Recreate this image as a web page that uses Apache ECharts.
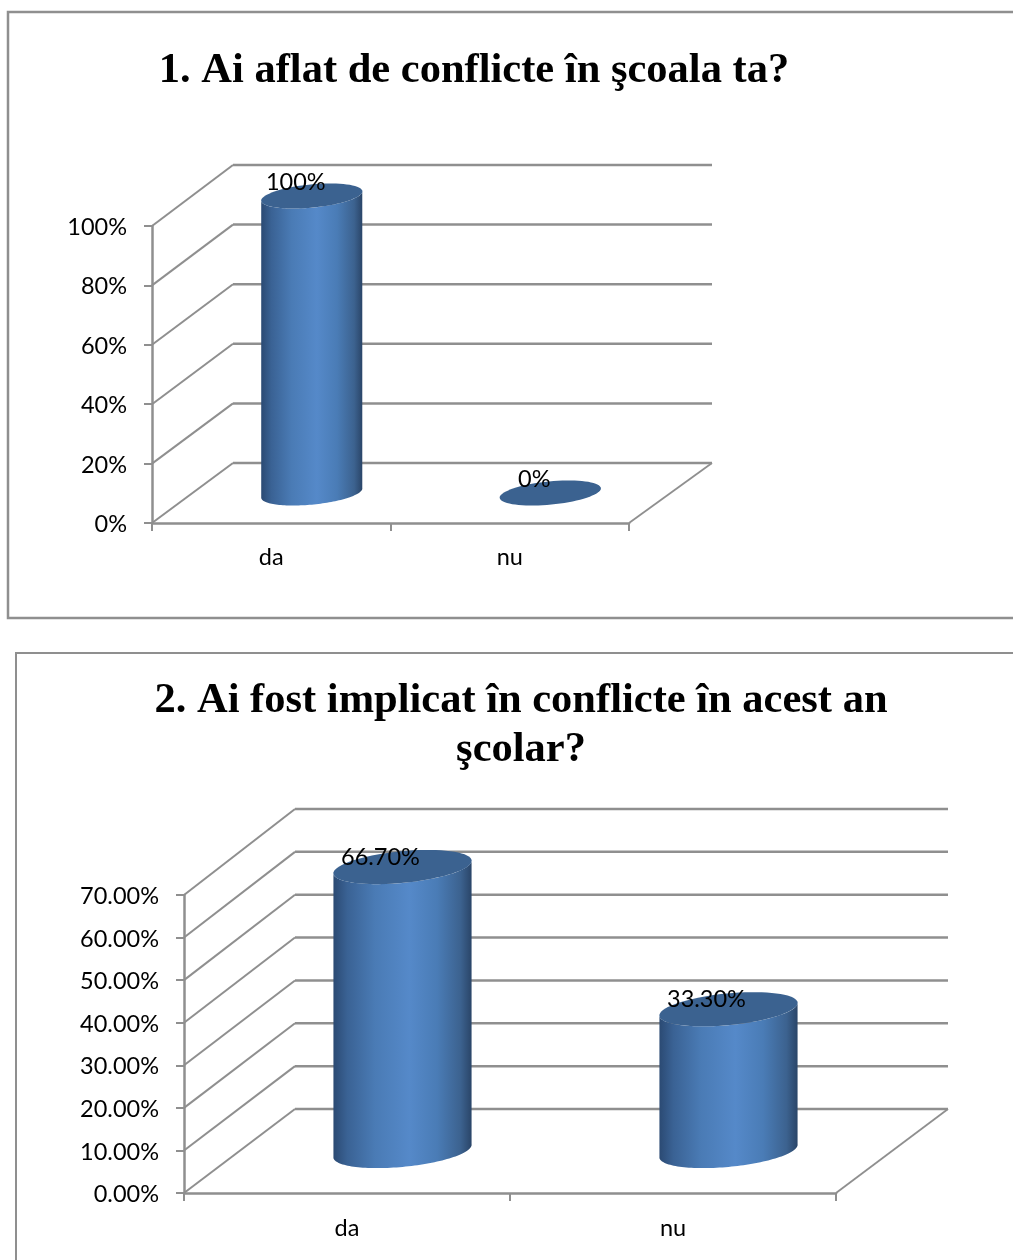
<!DOCTYPE html>
<html>
<head>
<meta charset="utf-8">
<style>
  html, body { margin: 0; padding: 0; background: #fff; }
  #chart { width: 1013px; height: 1260px; }
</style>
<script src="https://cdn.jsdelivr.net/npm/echarts@6/dist/echarts.min.js"></script>
</head>
<body>
<div id="chart"></div>
<script>
const categories = ['da', 'nu'];
const conflictsKnownValues = [100, 0];
const conflictsInvolvedValues = [66.7, 33.3];
const conflictsKnownTicks = [0, 20, 40, 60, 80, 100];
const conflictsInvolvedTicks = [0, 10, 20, 30, 40, 50, 60, 70];
const titleOne = '1. Ai aflat de conflicte în şcoala ta?';
const titleTwo = '2. Ai fost implicat în conflicte în acest an\nşcolar?';

const LINE = '#8f8f8f';
const FONT = 'Lato';
const CAP = '#3b6290';
const BODY_STOPS = [
  { offset: 0, color: '#2b4a73' },
  { offset: 0.1, color: '#3a6294' },
  { offset: 0.3, color: '#4a7bb5' },
  { offset: 0.55, color: '#5589c9' },
  { offset: 0.75, color: '#4a7cb6' },
  { offset: 0.92, color: '#3c628f' },
  { offset: 1, color: '#2a4568' }
];
const TILT = 5.5 * Math.PI / 180;   // ellipse rotation of the cylinder ends
const FLATNESS = 0.228;             // minor / major axis of the ends
const BAR_RATIO = 0.213;            // major axis as a share of the category band

function ellipsePoint(cx, cy, a, b, t) {
  const x = a * Math.cos(t), y = b * Math.sin(t);
  return [cx + x * Math.cos(TILT) + y * Math.sin(TILT),
          cy - x * Math.sin(TILT) + y * Math.cos(TILT)];
}

function ellipseArc(cx, cy, a, b, from, to) {
  const pts = [];
  for (let i = 0; i <= 72; i++) {
    pts.push(ellipsePoint(cx, cy, a, b, from + (to - from) * i / 72));
  }
  return pts;
}

// Receding gridlines: a diagonal on the side wall plus a line along the back wall.
function wallRenderer(depth) {
  return function (params, api) {
    const y = api.coord([0, api.value(0)])[1];
    const cs = params.coordSys;
    const x0 = cs.x, x1 = cs.x + cs.width;
    const floor = cs.y + cs.height;
    const backY = floor - depth.y - (floor - y) * depth.stretch;
    const children = [
      { type: 'line', shape: { x1: x0, y1: y, x2: x0 + depth.x, y2: backY }, style: { stroke: LINE, lineWidth: 2 } },
      { type: 'line', shape: { x1: x0 + depth.x, y1: backY, x2: x1 + depth.right, y2: backY }, style: { stroke: LINE, lineWidth: 2.5 } }
    ];
    if (params.dataIndex === 0) {
      children.push({ type: 'line', shape: { x1: x1, y1: y, x2: x1 + depth.right, y2: backY }, style: { stroke: LINE, lineWidth: 1.8 } });
    }
    return { type: 'group', children: children };
  };
}

// Cylinder standing mid-way along the floor depth, with its value label.
function cylinderRenderer(depth, labelText, labelDx, labelDy, fontSize) {
  return function (params, api) {
    const idx = api.value(0), val = api.value(1);
    const base = api.coord([idx, 0]);
    const top = api.coord([idx, val]);
    const band = api.size([1, 0])[0];
    const a = band * BAR_RATIO, b = a * FLATNESS;
    const cx = base[0] + depth.x / 2;
    const by = base[1] - depth.y / 2;
    const ty = top[1] - depth.y / 2;
    const turn = Math.atan2(b * Math.sin(TILT), a * Math.cos(TILT));
    const children = [];
    if (val > 0) {
      const lower = ellipseArc(cx, by, a, b, -turn, Math.PI - turn);
      const upper = ellipseArc(cx, ty, a, b, Math.PI - turn, -turn);
      children.push({
        type: 'polygon',
        shape: { points: lower.concat(upper) },
        style: { fill: { type: 'linear', x: 0, y: 0, x2: 1, y2: 0, colorStops: BODY_STOPS } }
      });
    }
    children.push({
      type: 'polygon',
      shape: { points: ellipseArc(cx, ty, a, b, 0, Math.PI * 2) },
      style: { fill: CAP }
    });
    children.push({
      type: 'text',
      style: {
        text: labelText(val), x: cx + labelDx, y: ty + labelDy,
        fill: '#000', font: fontSize + 'px ' + FONT, align: 'center', verticalAlign: 'middle'
      }
    });
    return { type: 'group', children: children };
  };
}

const depthOne = { x: 81, right: 83, y: 60, stretch: 298 / 297 };
const depthTwo = { x: 111, right: 112, y: 84, stretch: 300 / 298 };
const SIZE = 23.5;

const axisLine = { show: true, lineStyle: { color: LINE, width: 2.5 } };
const axisTick = { show: true, length: 8, lineStyle: { color: LINE, width: 2 } };

function xAxis(gridIndex, margin) {
  return {
    type: 'category', gridIndex: gridIndex, data: categories,
    axisLine: axisLine, axisTick: axisTick,
    axisLabel: { color: '#000', fontFamily: FONT, fontSize: SIZE, margin: margin }
  };
}

function yAxis(gridIndex, max, interval, formatter) {
  return {
    type: 'value', gridIndex: gridIndex, min: 0, max: max, interval: interval,
    axisLine: axisLine, axisTick: axisTick, splitLine: { show: false },
    axisLabel: { color: '#000', fontFamily: FONT, fontSize: SIZE, margin: 25, verticalAlign: 'top', lineHeight: 3, formatter: formatter }
  };
}

const option = {
  animation: false,
  backgroundColor: '#fff',
  title: [
    { text: titleOne, left: 469, top: 45, textAlign: 'center',
      textStyle: { fontFamily: 'Liberation Serif', fontWeight: 'bold', fontSize: 42.5, color: '#000' } },
    { text: titleTwo, left: 516, top: 672, textAlign: 'center',
      textStyle: { fontFamily: 'Liberation Serif', fontWeight: 'bold', fontSize: 42.5, lineHeight: 49, color: '#000' } }
  ],
  graphic: [
    { type: 'polyline', silent: true, shape: { points: [[1013, 12], [8, 12], [8, 618], [1013, 618]] },
      style: { stroke: LINE, lineWidth: 2.5, fill: null } },
    { type: 'polyline', silent: true, shape: { points: [[1013, 653], [16, 653], [16, 1260]] },
      style: { stroke: LINE, lineWidth: 2, fill: null } }
  ],
  grid: [
    { left: 152, top: 226, width: 477, height: 297 },
    { left: 184, top: 895, width: 652, height: 298 }
  ],
  xAxis: [xAxis(0, 22), xAxis(1, 23)],
  yAxis: [
    yAxis(0, 100, 20, function (v) { return v + '%'; }),
    yAxis(1, 70, 10, function (v) { return v.toFixed(2) + '%'; })
  ],
  series: [
    { type: 'custom', xAxisIndex: 0, yAxisIndex: 0, z: 1, silent: true,
      encode: { y: 0 }, data: conflictsKnownTicks.map(function (t) { return [t]; }),
      renderItem: wallRenderer(depthOne) },
    { type: 'custom', xAxisIndex: 0, yAxisIndex: 0, z: 3, silent: true,
      encode: { x: 0, y: 1 }, data: conflictsKnownValues.map(function (v, i) { return [i, v]; }),
      renderItem: cylinderRenderer(depthOne, function (v) { return v + '%'; }, -16, -14, SIZE) },
    { type: 'custom', xAxisIndex: 1, yAxisIndex: 1, z: 1, silent: true,
      encode: { y: 0 }, data: conflictsInvolvedTicks.map(function (t) { return [t]; }),
      renderItem: wallRenderer(depthTwo) },
    { type: 'custom', xAxisIndex: 1, yAxisIndex: 1, z: 3, silent: true,
      encode: { x: 0, y: 1 }, data: conflictsInvolvedValues.map(function (v, i) { return [i, v]; }),
      renderItem: cylinderRenderer(depthTwo, function (v) { return v.toFixed(2) + '%'; }, -22, -10, SIZE) }
  ]
};

echarts.init(document.getElementById('chart'), null, { renderer: 'canvas' }).setOption(option);
</script>
</body>
</html>
